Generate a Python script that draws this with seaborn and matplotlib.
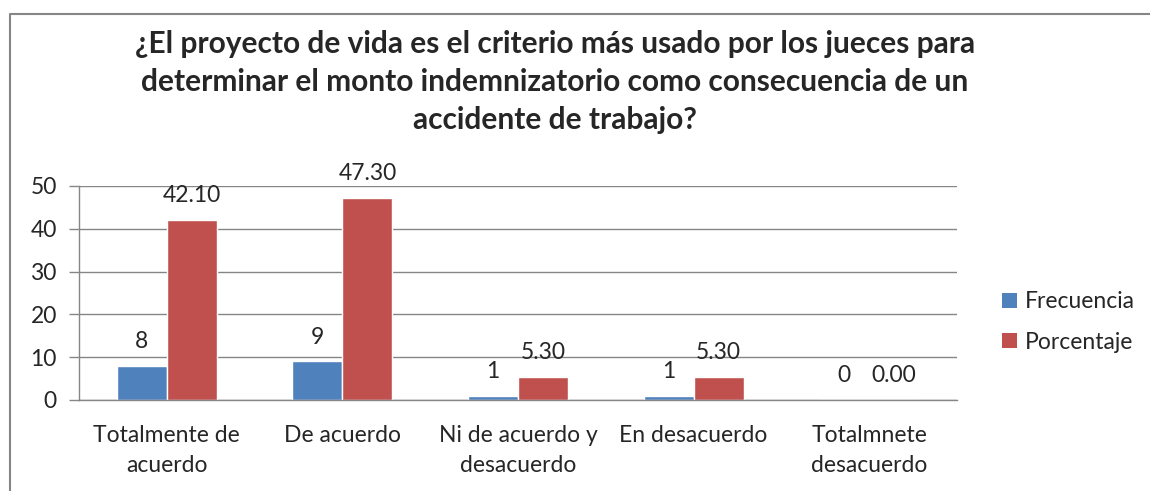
import matplotlib
matplotlib.use("Agg")
import matplotlib.pyplot as plt
import seaborn as sns
import pandas as pd
from matplotlib.lines import Line2D
from matplotlib.patches import Patch

categories = ["Totalmente de\nacuerdo", "De acuerdo", "Ni de acuerdo y\ndesacuerdo",
              "En desacuerdo", "Totalmnete\ndesacuerdo"]
frecuencia = [8, 9, 1, 1, 0]
porcentaje = [42.10, 47.30, 5.30, 5.30, 0.00]
series = ["Frecuencia", "Porcentaje"]
colors = ["#4F81BD", "#C0504D"]
title = ("¿El proyecto de vida es el criterio más usado por los jueces para\n"
         "determinar el monto indemnizatorio como consecuencia de un\n"
         "accidente de trabajo?")

sns.set_theme(style="white")
plt.rcParams['font.family'] = ['Lato', 'DejaVu Sans']

df = pd.DataFrame({
    "cat": categories * 2,
    "serie": [series[0]] * 5 + [series[1]] * 5,
    "valor": frecuencia + porcentaje,
})

FS = 16.5

fig = plt.figure(figsize=(11.5, 4.91), dpi=100)
ax = fig.add_axes([79/1150, 1 - 400/491, (957-79)/1150, (400-186)/491])

sns.barplot(data=df, x="cat", y="valor", hue="serie", palette=colors,
            width=0.57, dodge=True, ax=ax, legend=False, saturation=1)

ax.set_ylim(0, 50)
ax.set_xlim(-0.5, 4.5)
ax.set_yticks(range(0, 51, 10))
ax.yaxis.grid(True, color="#868686", linewidth=1)
ax.set_axisbelow(True)
for s in ["top", "right"]:
    ax.spines[s].set_visible(False)
for s in ["left", "bottom"]:
    ax.spines[s].set_color("#868686")
    ax.spines[s].set_linewidth(1)
ax.set_xlabel("")
ax.set_ylabel("")

ax.set_xticks([i for i in range(5)])
ax.set_xticklabels(categories, fontsize=FS, linespacing=1.55)
ax.tick_params(axis="x", length=0, pad=18)
ax.set_xticks([i - 0.5 for i in range(6)], minor=True)
ax.tick_params(axis="x", which="minor", direction="out", length=7, color="#868686", width=1)
ax.tick_params(axis="y", direction="out", length=7, color="#868686", width=1,
               labelsize=FS, pad=9, left=True)

fmt = ["{:.0f}", "{:.2f}"]
for cont, f in zip(ax.containers, fmt):
    ax.bar_label(cont, labels=[f.format(v.get_height()) for v in cont],
                 padding=10, fontsize=FS)

fig.text(555/1150, 1 - 82/491, title, ha="center", va="center", fontsize=21.5,
         fontweight="bold", linespacing=1.42)

handles = [Patch(facecolor=c, edgecolor="none") for c in colors]
fig.legend(handles, series, loc="center left", bbox_to_anchor=(981/1150, 1 - 322/491),
           frameon=False, fontsize=FS, handlelength=0.65, handleheight=0.65,
           handletextpad=0.35, labelspacing=0.85)

fig.add_artist(Line2D([10/1150, 10/1150, 1.0], [0.0, 1 - 14/491, 1 - 14/491],
                      color="#868686", linewidth=1.5, transform=fig.transFigure))

fig.savefig("out.png", dpi=100)
